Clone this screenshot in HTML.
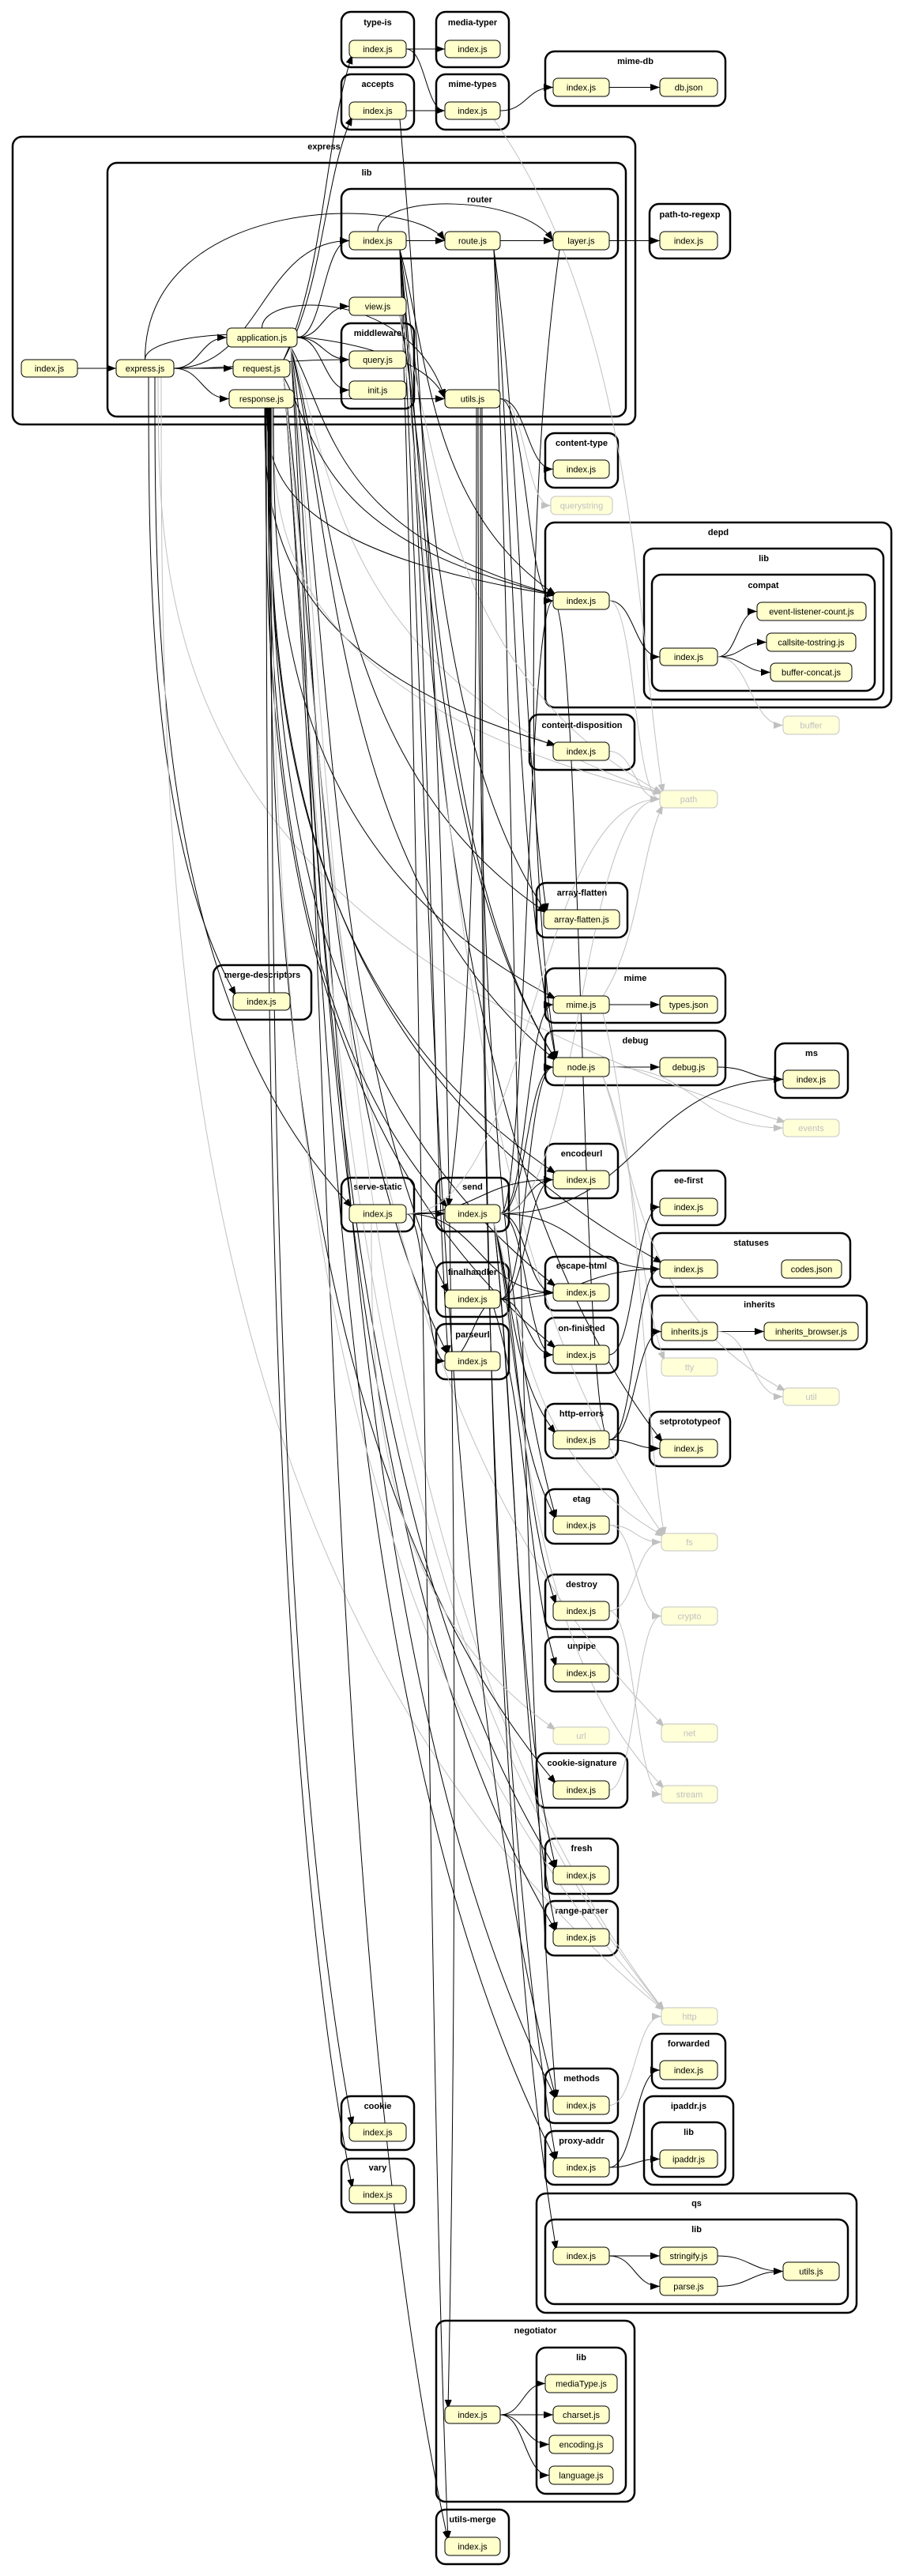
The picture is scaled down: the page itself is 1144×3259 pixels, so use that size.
<!DOCTYPE html>
<html><head><meta charset="utf-8">
<style>
html,body{margin:0;padding:0;background:#fff;}
svg{display:block;font-family:"Liberation Sans",sans-serif;}
.cl{fill:none;stroke:#000;stroke-width:2.5;}
.cll{font-weight:bold;font-size:11px;text-anchor:middle;fill:#000;}
.nd{fill:#ffffcc;stroke:#000;stroke-width:1;}
.ndg{fill:#ffffd8;stroke:#c4c4c4;stroke-width:1;}
.nt{font-size:11px;text-anchor:middle;fill:#000;}
.ntg{font-size:11px;text-anchor:middle;fill:#c0c0c0;}
.e{fill:none;stroke:#000;stroke-width:1;}
.eg{fill:none;stroke:#c0c0c0;stroke-width:1;}
</style></head><body>
<svg id="g" width="1144" height="3259" viewBox="0 0 1144 3259" xmlns="http://www.w3.org/2000/svg">
<defs>
<marker id="a" markerWidth="12" markerHeight="9" refX="12" refY="4.5" orient="auto" markerUnits="userSpaceOnUse"><path d="M0,0 L12,4.5 L0,9 z" fill="#000"/></marker>
<marker id="ag" markerWidth="12" markerHeight="9" refX="12" refY="4.5" orient="auto" markerUnits="userSpaceOnUse"><path d="M0,0 L12,4.5 L0,9 z" fill="#c0c0c0"/></marker>
</defs>
<g id="clusters"></g>
<g id="edges"></g>
<g id="nodes"></g>
</svg>
<script>
var NS="http://www.w3.org/2000/svg";
var C=[
["type-is",432,15,524,85,28],["media-typer",552,15,644,85,28],["mime-db",690,65,918,134,77],
["accepts",432,94,524,164,106],["mime-types",552,94,644,164,106],
["express",16,173,804,537,185],["lib",136,206,792,527,218],["router",432,239,782,327,252],
["path-to-regexp",822,258,924,327,271],["middleware",432,409,524,517,421],
["content-type",690,548,782,617,560],["depd",690,661,1128,895,673],["lib",815,694,1118,885,706],
["compat",825,727,1107,874,740],["content-disposition",670,904,803,974,917],
["array-flatten",679,1117,794,1186,1129],["merge-descriptors",270,1221,394,1290,1233],
["mime",690,1225,918,1294,1237],["debug",690,1304,918,1373,1316],["ms",981,1320,1073,1389,1332],
["encodeurl",690,1447,782,1516,1459],["serve-static",432,1490,524,1558,1501],["send",552,1490,644,1558,1501],
["ee-first",825,1481,918,1550,1493],["statuses",825,1560,1076,1628,1572],["finalhandler",552,1597,644,1666,1609],
["escape-html",690,1590,782,1658,1601],["inherits",825,1639,1097,1707,1650],["on-finished",690,1667,782,1737,1680],
["parseurl",552,1675,644,1745,1688],["http-errors",690,1776,782,1845,1788],["setprototypeof",822,1786,924,1855,1798],
["etag",690,1884,782,1953,1896],["destroy",690,1992,782,2061,2004],["unpipe",690,2071,782,2140,2082],
["cookie-signature",679,2218,794,2287,2230],["fresh",690,2326,782,2396,2338],["range-parser",690,2405,782,2474,2417],
["forwarded",825,2573,918,2642,2585],["methods",690,2617,782,2686,2629],["cookie",432,2652,524,2720,2664],
["ipaddr.js",815,2652,928,2764,2664],["lib",825,2685,918,2754,2697],["proxy-addr",690,2696,782,2764,2708],
["vary",432,2731,524,2799,2742],["qs",679,2775,1084,2926,2787],["lib",690,2808,1073,2915,2820],
["negotiator",552,2936,803,3165,2948],["lib",679,2970,792,3155,2982],["utils-merge",552,3175,644,3244,3187]
];
var N={
ex_index:[27,455,98,477,"index.js"],expressjs:[147,455,220,477,"express.js"],
app:[287,415,376,439,"application.js"],req:[295,455,367,477,"request.js"],res:[290,493,372,516,"response.js"],
view:[442,376,514,399,"view.js"],query:[442,444,514,466,"query.js"],init:[442,482,514,505,"init.js"],
utils:[563,493,633,516,"utils.js"],r_index:[442,293,514,316,"index.js"],route:[563,293,633,316,"route.js"],
layer:[700,293,771,316,"layer.js"],ptr:[835,293,908,316,"index.js"],
typeis:[442,51,514,73,"index.js"],mediatyper:[563,51,633,73,"index.js"],accepts:[442,129,514,151,"index.js"],
mimetypes:[563,129,633,151,"index.js"],mimedb:[700,99,771,122,"index.js"],dbjson:[835,99,908,122,"db.json"],
contenttype:[700,582,771,605,"index.js"],querystring:[697,628,775,651,"querystring",1],
depd:[700,749,771,771,"index.js"],compat:[835,820,908,842,"index.js"],
elc:[958,762,1096,785,"event-listener-count.js"],cst:[970,801,1083,824,"callsite-tostring.js"],
bc:[975,839,1078,862,"buffer-concat.js"],buffer:[991,906,1062,929,"buffer",1],
cdisp:[700,939,771,962,"index.js"],path:[835,1000,908,1022,"path",1],
aflat:[688,1151,784,1175,"array-flatten.js"],merge:[295,1256,367,1278,"index.js"],
mimejs:[700,1260,771,1282,"mime.js"],typesjson:[835,1260,908,1282,"types.json"],
nodejs:[700,1338,771,1362,"node.js"],debugjs:[835,1338,908,1362,"debug.js"],ms:[991,1354,1062,1377,"index.js"],
events:[991,1416,1062,1438,"events",1],encodeurl:[700,1481,771,1504,"index.js"],
sstatic:[442,1524,514,1547,"index.js"],send:[563,1524,633,1547,"index.js"],eefirst:[835,1516,908,1538,"index.js"],
statuses:[835,1594,908,1617,"index.js"],codes:[989,1594,1065,1617,"codes.json"],
fhandler:[563,1632,633,1655,"index.js"],escape:[700,1624,771,1646,"index.js"],
inh:[837,1673,908,1696,"inherits.js"],inhb:[967,1673,1086,1696,"inherits_browser.js"],
onfin:[700,1702,771,1726,"index.js"],parseurl:[563,1710,633,1734,"index.js"],tty:[837,1718,908,1741,"tty",1],
util:[991,1756,1062,1778,"util",1],herr:[700,1810,771,1833,"index.js"],setp:[835,1821,908,1844,"index.js"],
etag:[700,1918,771,1941,"index.js"],fs:[837,1940,908,1962,"fs",1],destroy:[700,2026,771,2050,"index.js"],
crypto:[837,2033,908,2056,"crypto",1],unpipe:[700,2105,771,2128,"index.js"],url:[700,2185,771,2207,"url",1],
net:[837,2181,908,2204,"net",1],csig:[700,2253,771,2276,"index.js"],stream:[837,2259,908,2281,"stream",1],
fresh:[700,2361,771,2384,"index.js"],rparser:[700,2440,771,2462,"index.js"],http:[837,2540,908,2562,"http",1],
fwd:[835,2607,908,2631,"index.js"],methods:[700,2652,771,2675,"index.js"],cookie:[442,2686,514,2709,"index.js"],
ipaddr:[835,2720,908,2743,"ipaddr.js"],paddr:[700,2730,771,2754,"index.js"],vary:[442,2765,514,2788,"index.js"],
qsi:[700,2843,771,2865,"index.js"],strf:[835,2843,908,2865,"stringify.js"],parse:[835,2881,908,2904,"parse.js"],
qsu:[991,2862,1062,2885,"utils.js"],negi:[563,3044,633,3066,"index.js"],mtype:[690,3004,781,3027,"mediaType.js"],
charset:[700,3044,771,3066,"charset.js"],encoding:[695,3081,776,3104,"encoding.js"],
language:[695,3120,776,3143,"language.js"],umerge:[563,3210,633,3233,"index.js"]
};
var G=["querystring","buffer","path","events","tty","util","fs","crypto","url","net","stream","http"];
var E=[
["ex_index","expressjs"],["expressjs","app"],["expressjs","req"],["expressjs","res"],
["expressjs","r_index"],["expressjs","route",null,1],["expressjs","query"],["expressjs","utils",null,1],
["expressjs","merge",188],["expressjs","sstatic",196],["expressjs","events",200],["expressjs","http",204],
["app","view"],["app","query"],["app","init"],["app","r_index"],["app","utils",null,1],
["app","depd",420],["app","fhandler",418],["app","methods",422],["app","umerge",416],["app","aflat",425],
["app","nodejs",428],["app","http",430],["app","path",426],
["req","accepts",410],["req","typeis",412],["req","depd",405],["req","fresh",408],["req","rparser",410],
["req","parseurl",406],["req","paddr",412],["req","net",415],["req","http",413],
["res","cdisp",335],["res","depd",338],["res","encodeurl",340],["res","escape",342],["res","onfin",336],
["res","send",339],["res","statuses",341],["res","vary",337],["res","cookie",343],["res","csig",340],
["res","path",345],["res","http",344],["res","utils"],["res","mimejs",346],
["r_index","route"],["r_index","layer",null,1],["r_index","nodejs",540],["r_index","depd",542],
["r_index","parseurl",544],["r_index","methods",546],["r_index","umerge",538],["r_index","aflat",548],["r_index","setp",545],
["route","layer"],["route","nodejs",650],["route","methods",655],["route","aflat",660],
["layer","ptr"],["layer","nodejs",665],["view","path",560],["view","nodejs",555],["view","fs",562],
["utils","contenttype"],["utils","querystring"],["utils","depd"],["utils","etag",605],["utils","paddr",608],
["utils","qsi",610],["utils","send",603],
["typeis","mediatyper"],["typeis","mimetypes"],["accepts","mimetypes"],["mimetypes","mimedb"],
["mimetypes","path",805],["accepts","negi",582],["mimedb","dbjson"],
["depd","compat"],["compat","elc"],["compat","cst"],["compat","bc"],["compat","buffer"],["depd","path"],
["cdisp","path"],["mimejs","typesjson"],["mimejs","path",810],["mimejs","fs",812],
["nodejs","debugjs"],["debugjs","ms"],["nodejs","tty",808],["nodejs","util",806],["nodejs","events"],
["sstatic","send"],["sstatic","encodeurl"],["sstatic","escape"],["sstatic","parseurl"],["sstatic","url",470],["sstatic","path"],
["send","encodeurl"],["send","nodejs"],["send","depd"],["send","destroy",660],["send","escape"],["send","etag",650],
["send","fresh",652],["send","herr",648],["send","mimejs"],["send","ms"],["send","onfin"],["send","rparser",655],
["send","statuses"],["send","fs",662],["send","path"],["send","stream",664],
["fhandler","nodejs"],["fhandler","encodeurl"],["fhandler","escape"],["fhandler","onfin"],["fhandler","parseurl"],
["fhandler","statuses"],["fhandler","unpipe",668],
["onfin","eefirst"],["herr","depd"],["herr","inh"],["herr","setp"],["herr","statuses"],
["inh","inhb"],["inh","util"],["etag","crypto"],["etag","fs"],["destroy","fs"],["destroy","stream"],
["csig","crypto"],["methods","http"],["paddr","fwd"],["paddr","ipaddr"],
["qsi","strf"],["qsi","parse"],["strf","qsu"],["parse","qsu"],
["negi","mtype"],["negi","charset"],["negi","encoding"],["negi","language"]
];
function el(t,a,p,txt){var e=document.createElementNS(NS,t);for(var k in a)e.setAttribute(k,a[k]);if(txt)e.textContent=txt;p.appendChild(e);return e;}
var gc=document.getElementById("clusters"),ge=document.getElementById("edges"),gn=document.getElementById("nodes");
C.forEach(function(c){el("rect",{x:c[1],y:c[2],width:c[3]-c[1],height:c[4]-c[2],rx:12,class:"cl"},gc);
el("text",{x:(c[1]+c[3])/2,y:c[5]+4,class:"cll"},gc,c[0]);});
for(var k in N){var n=N[k],g=G.indexOf(k)>=0;
el("rect",{x:n[0],y:n[1],width:n[2]-n[0],height:n[3]-n[1],rx:6,class:g?"ndg":"nd"},gn);
el("text",{x:(n[0]+n[2])/2,y:(n[1]+n[3])/2+4,class:g?"ntg":"nt"},gn,n[4]);}
function f(v){return Math.round(v*10)/10;}
E.forEach(function(e){var a=N[e[0]],b=N[e[1]],gray=G.indexOf(e[1])>=0;
var sx=a[2],sy=(a[1]+a[3])/2,tx=b[0],ty=(b[1]+b[3])/2,d;var bx=e[2];
if(e[3]){var top=Math.min(sy,ty)-60;d="M"+((a[0]+a[2])/2)+","+a[1]+" C"+((a[0]+a[2])/2)+","+top+" "+(tx-40)+","+top+" "+tx+","+ty;}
else if(bx){var dy=ty-sy,down=dy>0;
var s0x=Math.min(a[2]-8,Math.max(a[0]+8,bx)),s0y=down?a[3]:a[1];
var t0x=tx+4,t0y=down?b[1]+4:b[3]-4;
var ddy=t0y-s0y;
d="M"+f(s0x)+","+f(s0y)+" C"+f(bx)+","+f(s0y+ddy*0.3)+" "+f(bx)+","+f(t0y-ddy*0.25)+" "+f(t0x)+","+f(t0y);}
else{var m=(sx+tx)/2;d="M"+sx+","+sy+" C"+m+","+sy+" "+m+","+ty+" "+tx+","+ty;}
el("path",{d:d,class:gray?"eg":"e","marker-end":gray?"url(#ag)":"url(#a)"},ge);});
</script>
</body></html>
